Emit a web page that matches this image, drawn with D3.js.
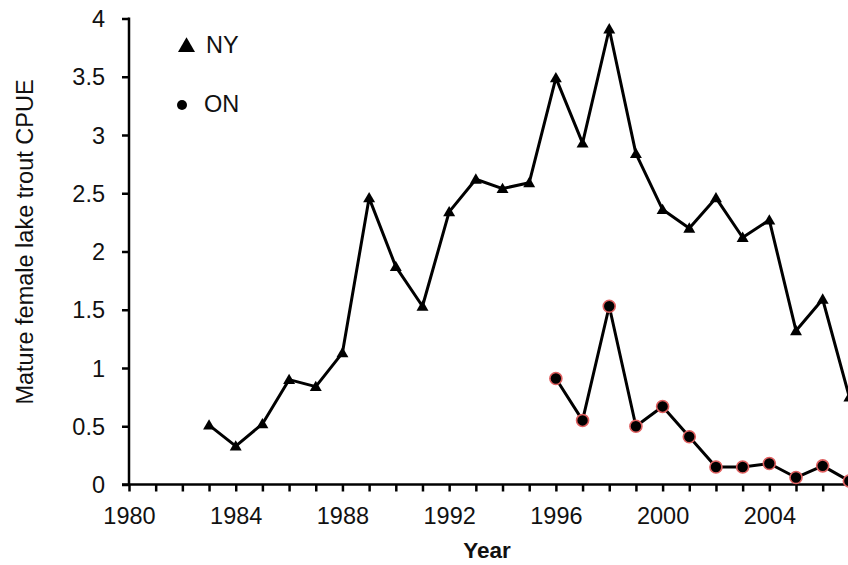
<!DOCTYPE html>
<html><head><meta charset="utf-8">
<script src="https://cdn.jsdelivr.net/npm/d3@7"></script>
<style>body{margin:0;background:#fff;overflow:hidden}svg{display:block}</style>
</head><body>
<svg id="c" width="848" height="565"></svg>
<script>
const nyYears = [1983,1984,1985,1986,1987,1988,1989,1990,1991,1992,1993,1994,1995,1996,1997,1998,1999,2000,2001,2002,2003,2004,2005,2006,2007];
const nyValues = [0.51,0.33,0.52,0.90,0.84,1.13,2.46,1.87,1.53,2.34,2.62,2.54,2.59,3.49,2.93,3.91,2.84,2.36,2.20,2.46,2.12,2.27,1.32,1.59,0.75];
const onYears = [1996,1997,1998,1999,2000,2001,2002,2003,2004,2005,2006,2007];
const onValues = [0.91,0.55,1.53,0.50,0.67,0.41,0.15,0.15,0.18,0.06,0.16,0.03];
const xTickLabels = [1980,1984,1988,1992,1996,2000,2004];
const yTicks = [0,0.5,1,1.5,2,2.5,3,3.5,4];

const svg = d3.select("#c");
const font = "Liberation Sans, Arial, sans-serif";
const fs = 23.5;
const x = d3.scaleLinear().domain([1980,2008]).range([129, 129 + 28*26.68]);
const y = d3.scaleLinear().domain([0,4]).range([484.5, 18.5]);

// y axis
const ya = svg.append("g").attr("transform","translate(129,0)")
  .call(d3.axisLeft(y).tickValues(yTicks).tickSize(7).tickPadding(17).tickFormat(d=>String(d)));
ya.select(".domain").attr("stroke","#000").attr("stroke-width",2.5).attr("d","M0,17.5V485");
ya.selectAll(".tick line").attr("stroke-width",2.5);
ya.selectAll("text").attr("font-family",font).attr("font-size",fs).attr("fill","#111").attr("dy","0.35em");

// x axis
const xa = svg.append("g").attr("transform","translate(0,484.5)")
  .call(d3.axisBottom(x).tickValues(d3.range(1980,2008)).tickSize(7).tickPadding(16)
    .tickFormat(d=> xTickLabels.includes(d) ? String(d) : ""));
xa.select(".domain").attr("stroke","#000").attr("stroke-width",2.5).attr("d","M122,0H"+x(2008));
xa.selectAll(".tick line").attr("stroke-width",2.5);
xa.selectAll("text").attr("font-family",font).attr("font-size",fs).attr("fill","#111").attr("dy","0.71em");

// axis titles
svg.append("text").attr("x",487).attr("y",558).attr("text-anchor","middle")
  .attr("font-family",font).attr("font-size",22.5).attr("font-weight","bold").attr("fill","#111").text("Year");
svg.append("text").attr("transform","translate(33,242) rotate(-90)").attr("text-anchor","middle")
  .attr("font-family",font).attr("font-size",fs).attr("fill","#111").text("Mature female lake trout CPUE");

const line = d3.line().x(d=>x(d[0])).y(d=>y(d[1]));
const ny = nyYears.map((d,i)=>[d,nyValues[i]]);
const on = onYears.map((d,i)=>[d,onValues[i]]);

svg.append("path").datum(ny).attr("d",line).attr("fill","none").attr("stroke","#000").attr("stroke-width",3).attr("stroke-linejoin","round");
svg.append("path").datum(on).attr("d",line).attr("fill","none").attr("stroke","#000").attr("stroke-width",3).attr("stroke-linejoin","round");

const tri = d3.symbol().type(d3.symbolTriangle).size(62);
svg.append("g").selectAll("path").data(ny).join("path")
  .attr("d",tri).attr("transform",d=>`translate(${x(d[0])},${y(d[1])+1})`).attr("fill","#000");

svg.append("g").selectAll("circle").data(on).join("circle")
  .attr("cx",d=>x(d[0])).attr("cy",d=>y(d[1])).attr("r",6)
  .attr("fill","#000").attr("stroke","#e06060").attr("stroke-width",1.6);

// legend
const triL = d3.symbol().type(d3.symbolTriangle).size(125);
svg.append("path").attr("d",triL).attr("transform","translate(186.5,47)").attr("fill","#000");
svg.append("text").attr("x",206).attr("y",53).attr("font-family",font).attr("font-size",fs).attr("fill","#111").text("NY");
svg.append("circle").attr("cx",182).attr("cy",105).attr("r",5).attr("fill","#000");
svg.append("text").attr("x",204).attr("y",112).attr("font-family",font).attr("font-size",fs).attr("fill","#111").text("ON");
</script>
</body></html>
